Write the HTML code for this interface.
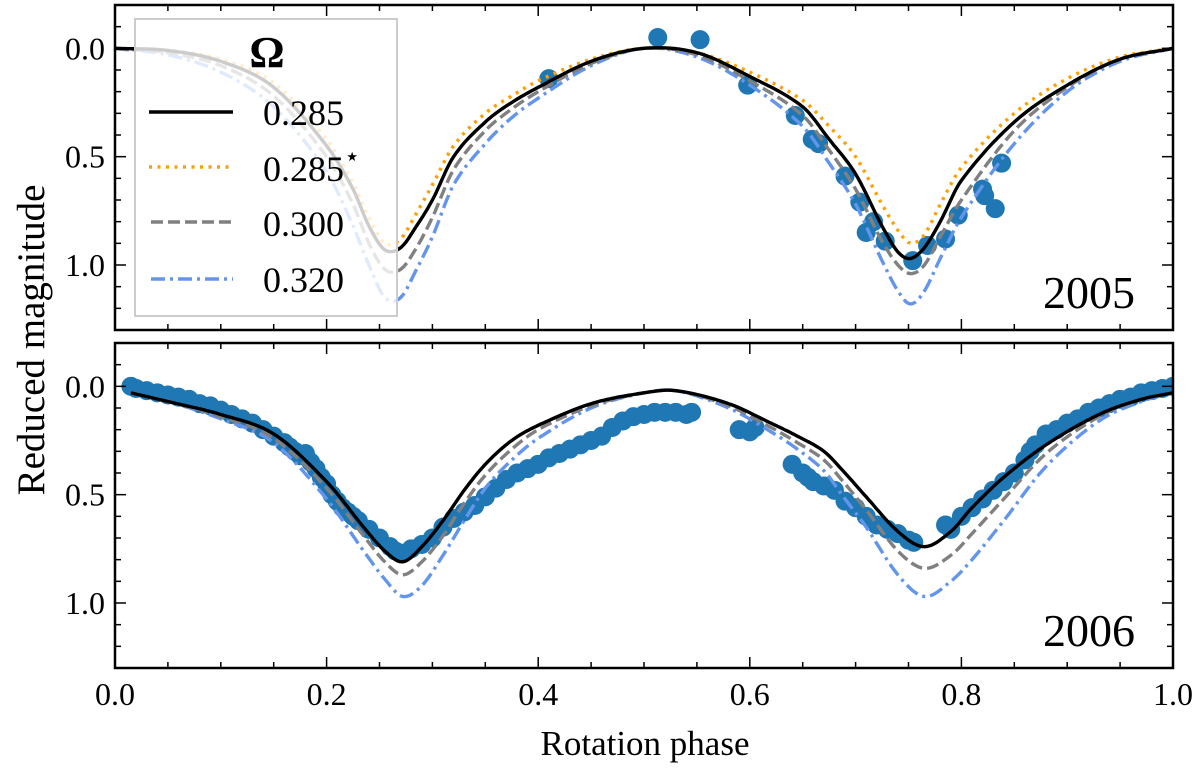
<!DOCTYPE html>
<html><head><meta charset="utf-8"><style>
body{margin:0;background:#fff}
svg{display:block;font-family:"Liberation Serif",serif}
</style></head><body>
<svg id="chart" width="1200" height="771" viewBox="0 0 1200 771">
</svg>
<script>
// ---- data ----
const phTop=[0,0.05,0.1,0.15,0.2,0.225,0.24,0.255,0.27,0.285,0.3,0.32,0.35,0.375,0.4,0.45,0.5,0.55,0.6,0.65,0.675,0.7,0.725,0.74,0.752,0.765,0.78,0.8,0.85,0.9,0.95,1.0];
const top285=[0,0.01,0.06,0.18,0.45,0.65,0.82,0.93,0.92,0.82,0.70,0.5,0.34,0.25,0.18,0.06,0.0,0.02,0.13,0.27,0.42,0.58,0.82,0.94,0.97,0.92,0.8,0.61,0.34,0.17,0.05,0];
const top285s=[0,0.01,0.05,0.16,0.42,0.62,0.78,0.9,0.88,0.76,0.63,0.45,0.3,0.22,0.15,0.05,0,0.02,0.11,0.24,0.36,0.5,0.72,0.84,0.9,0.86,0.72,0.55,0.3,0.14,0.04,0];
const top300=[0,0.02,0.08,0.22,0.5,0.72,0.9,1.02,1.02,0.92,0.78,0.56,0.38,0.28,0.2,0.07,0.0,0.03,0.15,0.31,0.47,0.65,0.89,1.0,1.04,1.0,0.87,0.7,0.38,0.18,0.05,0];
const top320=[0,0.03,0.11,0.27,0.57,0.82,1.0,1.15,1.15,1.02,0.87,0.63,0.44,0.32,0.23,0.08,0.0,0.04,0.17,0.36,0.53,0.72,0.98,1.12,1.18,1.12,0.97,0.78,0.44,0.2,0.06,0];
const phBot=[0.015,0.05,0.1,0.15,0.2,0.235,0.255,0.272,0.29,0.31,0.33,0.35,0.375,0.4,0.45,0.5,0.53,0.58,0.62,0.645,0.67,0.69,0.71,0.74,0.765,0.79,0.81,0.84,0.88,0.93,0.97,1.0];
const bot285=[0.03,0.07,0.13,0.22,0.44,0.65,0.76,0.81,0.74,0.62,0.48,0.36,0.25,0.18,0.08,0.03,0.02,0.08,0.17,0.23,0.30,0.40,0.51,0.67,0.74,0.67,0.56,0.42,0.27,0.13,0.06,0.03];
const bot300=[0.03,0.07,0.14,0.24,0.47,0.69,0.81,0.87,0.81,0.69,0.54,0.41,0.29,0.2,0.09,0.03,0.02,0.09,0.19,0.26,0.34,0.45,0.57,0.76,0.84,0.78,0.68,0.52,0.31,0.14,0.06,0.03];
const bot320=[0.03,0.07,0.15,0.26,0.52,0.76,0.89,0.97,0.92,0.78,0.62,0.47,0.34,0.24,0.1,0.03,0.02,0.1,0.21,0.29,0.39,0.52,0.65,0.87,0.97,0.9,0.8,0.62,0.37,0.16,0.07,0.03];
const obsTopPh=[0.41,0.513,0.553,0.598,0.643,0.659,0.665,0.69,0.704,0.717,0.71,0.728,0.754,0.768,0.785,0.797,0.82,0.822,0.832,0.838];
const obsTopMag=[0.14,-0.05,-0.04,0.17,0.31,0.42,0.44,0.59,0.71,0.80,0.85,0.89,0.98,0.91,0.88,0.77,0.65,0.68,0.74,0.53];
const obsBotPh=[0.015,0.02,0.03,0.04,0.05,0.06,0.07,0.08,0.09,0.1,0.11,0.12,0.13,0.14,0.15,0.16,0.165,0.17,0.175,0.18,0.185,0.19,0.195,0.2,0.205,0.21,0.215,0.22,0.225,0.23,0.24,0.25,0.26,0.265,0.27,0.28,0.29,0.3,0.31,0.32,0.33,0.34,0.35,0.36,0.37,0.38,0.39,0.4,0.41,0.42,0.43,0.44,0.45,0.46,0.47,0.48,0.49,0.5,0.51,0.52,0.53,0.54,0.545,0.59,0.6,0.605,0.64,0.65,0.655,0.66,0.67,0.68,0.69,0.7,0.71,0.72,0.73,0.74,0.75,0.755,0.785,0.79,0.8,0.81,0.82,0.83,0.84,0.85,0.86,0.865,0.87,0.88,0.89,0.9,0.91,0.92,0.93,0.94,0.95,0.96,0.97,0.98,0.99,1.0];
const obsBotMag=[0.0,0.01,0.02,0.03,0.04,0.05,0.06,0.08,0.09,0.11,0.13,0.15,0.17,0.2,0.23,0.26,0.28,0.3,0.32,0.31,0.35,0.38,0.42,0.45,0.5,0.53,0.56,0.58,0.6,0.62,0.66,0.7,0.74,0.76,0.77,0.75,0.73,0.7,0.65,0.61,0.58,0.55,0.51,0.47,0.43,0.4,0.38,0.36,0.33,0.31,0.29,0.27,0.25,0.23,0.19,0.16,0.14,0.13,0.12,0.12,0.12,0.13,0.12,0.2,0.21,0.19,0.36,0.4,0.42,0.44,0.46,0.48,0.53,0.56,0.6,0.64,0.66,0.68,0.71,0.72,0.64,0.66,0.6,0.56,0.52,0.48,0.44,0.4,0.34,0.3,0.27,0.22,0.2,0.17,0.15,0.12,0.1,0.08,0.06,0.05,0.03,0.02,0.01,0.0];
const xTicks=[0,0.2,0.4,0.6,0.8,1.0];
const xTickLabels=["0.0","0.2","0.4","0.6","0.8","1.0"];
const yTicks=[0,0.5,1.0];
const yTickLabels=["0.0","0.5","1.0"];

// ---- layout ----
const NS="http://www.w3.org/2000/svg";
const svg=document.getElementById('chart');
const X0=115,X1=1173;
const panels=[{top:5,bot:330,name:'2005'},{top:343,bot:668,name:'2006'}];
const YMIN=-0.2,YMAX=1.3;
const sx=p=>X0+p*(X1-X0);
const sy=(pi,v)=>panels[pi].top+(v-YMIN)/(YMAX-YMIN)*(panels[pi].bot-panels[pi].top);
function mk(tag,attrs,parent){const e=document.createElementNS(NS,tag);for(const k in attrs)e.setAttribute(k,attrs[k]);(parent||svg).appendChild(e);return e;}
function pathFor(pi,ph,vals){
  const n=ph.length,m=[];
  for(let i=0;i<n;i++){
    const a=Math.max(0,i-1),b=Math.min(n-1,i+1);
    m.push((vals[b]-vals[a])/(ph[b]-ph[a]));
  }
  let d='';
  for(let i=0;i<n-1;i++){
    const h=ph[i+1]-ph[i];
    const steps=Math.max(4,Math.ceil(h*400));
    for(let s=(i===0?0:1);s<=steps;s++){
      const t=s/steps,t2=t*t,t3=t2*t;
      const v=(2*t3-3*t2+1)*vals[i]+(t3-2*t2+t)*h*m[i]+(-2*t3+3*t2)*vals[i+1]+(t3-t2)*h*m[i+1];
      const x=sx(ph[i]+t*h),y=sy(pi,v);
      d+=(d?'L':'M')+x.toFixed(1)+','+y.toFixed(1);
    }
  }
  return d;
}
const styles={
  s285:{stroke:'#000','stroke-width':3.4},
  s285s:{stroke:'#ff9f00','stroke-width':3.4,'stroke-dasharray':'3,5.5'},
  s300:{stroke:'#808080','stroke-width':3.4,'stroke-dasharray':'12,5'},
  s320:{stroke:'#6495ed','stroke-width':3.4,'stroke-dasharray':'14,5,3,5'}
};
mk('defs',{}).innerHTML='<clipPath id="c0"><rect x="115" y="5" width="1058" height="325"/></clipPath><clipPath id="c1"><rect x="115" y="343" width="1058" height="325"/></clipPath>';

panels.forEach((P,pi)=>{
  const g=mk('g',{'clip-path':'url(#c'+pi+')'});
  
  
  const obsPh=pi===0?obsTopPh:obsBotPh, obsMag=pi===0?obsTopMag:obsBotMag;
  obsPh.forEach((p,i)=>{
    const c=mk('circle',{cx:sx(p),cy:sy(pi,obsMag[i]),r:9.5,fill:'#1f77b4'},g);
    
    
  });
  const series=pi===0?[['s320',top320,phTop],['s300',top300,phTop],['s285s',top285s,phTop],['s285',top285,phTop]]
                     :[['s320',bot320,phBot],['s300',bot300,phBot],['s285',bot285,phBot]];
  series.forEach(([k,vals,ph])=>{
    const p=mk('path',Object.assign({d:pathFor(pi,ph,vals),fill:'none','stroke-linejoin':'round'},styles[k]),g);
    
    
  });
  const tg=mk('g',{stroke:'#000','stroke-width':1.5});
  
  
  for(let i=0;i<=20;i++){
    const p=i*0.05,x=sx(p),L=(i%4===0)?11:6;
    mk('line',{x1:x,x2:x,y1:P.top,y2:P.top+L},tg);
    mk('line',{x1:x,x2:x,y1:P.bot,y2:P.bot-L},tg);
  }
  for(let i=-2;i<=13;i++){
    const v=i*0.1,y=sy(pi,v),L=(i%5===0)?11:6;
    mk('line',{x1:X0,x2:X0+L,y1:y,y2:y},tg);
    mk('line',{x1:X1,x2:X1-L,y1:y,y2:y},tg);
  }
  yTicks.forEach((v,i)=>{
    const t=mk('text',{x:X0-10,y:sy(pi,v)+11,'text-anchor':'end','font-size':32});
    t.textContent=yTickLabels[i];
    
    
  });
  const yl=mk('text',{x:1135,y:P.bot-22,'text-anchor':'end','font-size':46});
  yl.textContent=P.name;
  
  
  const fr=mk('rect',{x:X0,y:P.top,width:X1-X0,height:P.bot-P.top,fill:'none',stroke:'#000','stroke-width':2.5});
  
  
});
xTicks.forEach((p,i)=>{
  const t=mk('text',{x:sx(p),y:705,'text-anchor':'middle','font-size':32});
  t.textContent=xTickLabels[i];
  
  
});
</script>
<svg style="position:absolute;left:0;top:0" width="1200" height="771" font-family="Liberation Serif, serif">
  <g>
    <rect x="135" y="19" width="262" height="297" fill="#fff" fill-opacity="0.8" stroke="#ccc" stroke-width="2"/>
    <text x="267" y="67" font-size="44" font-weight="bold" text-anchor="middle">Ω</text>
    <line x1="149" y1="112" x2="233" y2="112" stroke="#000" stroke-width="3.4"/>
    <text x="263" y="125" font-size="36">0.285</text>
    <line x1="149" y1="167" x2="233" y2="167" stroke="#ff9f00" stroke-width="3.4" stroke-dasharray="3,5.5"/>
    <text x="263" y="181" font-size="36">0.285<tspan font-size="26" dy="-16">⋆</tspan></text>
    <line x1="151" y1="222" x2="233" y2="222" stroke="#808080" stroke-width="3.4" stroke-dasharray="12,5"/>
    <text x="263" y="236" font-size="36">0.300</text>
    <line x1="151" y1="279" x2="233" y2="279" stroke="#6495ed" stroke-width="3.4" stroke-dasharray="14,5,3,5"/>
    <text x="263" y="292" font-size="36">0.320</text>
  </g>
  <text x="645" y="755" font-size="35" text-anchor="middle">Rotation phase</text>
  <text x="0" y="0" font-size="39" text-anchor="middle" transform="translate(44,340) rotate(-90)">Reduced magnitude</text>
</svg>
</body></html>
